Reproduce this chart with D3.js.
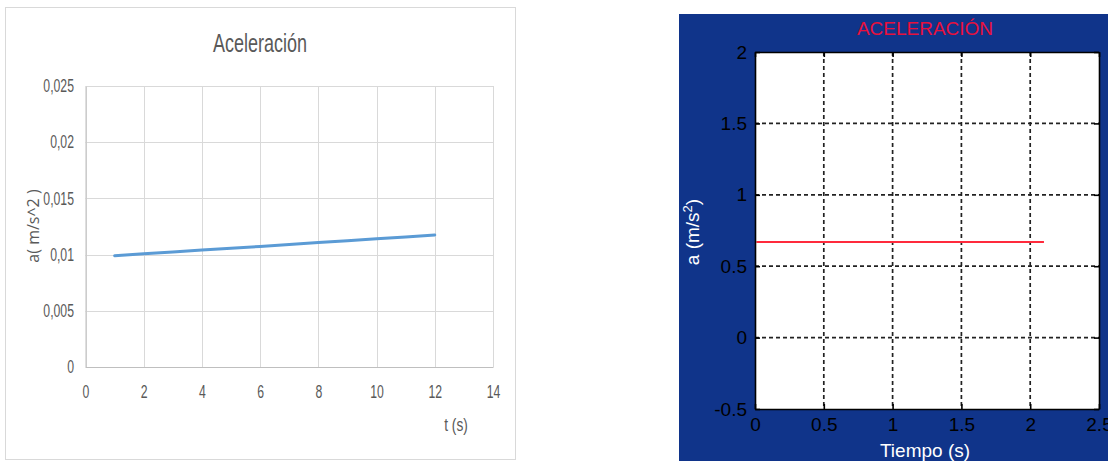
<!DOCTYPE html>
<html>
<head>
<meta charset="utf-8">
<script src="https://cdn.jsdelivr.net/npm/d3@7"></script>
<style>
  html, body { margin: 0; padding: 0; background: #ffffff; }
  svg { display: block; }
</style>
</head>
<body>
<svg id="chart" width="1108" height="461"></svg>
<script>
// ---- Spreadsheet chart: acceleration vs time ----
const sheetTime = [1, 2, 3, 4, 5, 6, 7, 8, 9, 10, 11, 12];
const sheetAccel = [0.00990, 0.01007, 0.01023, 0.01040, 0.01057, 0.01073, 0.01090, 0.01107, 0.01123, 0.01140, 0.01157, 0.01174];
const sheetXTicks = [0, 2, 4, 6, 8, 10, 12, 14];
const sheetYTicks = [0, 0.005, 0.01, 0.015, 0.02, 0.025];

// ---- Simulation plot: constant acceleration ----
const simTime = [0.01, 2.1];
const simAccel = [0.67, 0.67];
const simXTicks = [0, 0.5, 1, 1.5, 2, 2.5];
const simYTicks = [-0.5, 0, 0.5, 1, 1.5, 2];

const svg = d3.select("#chart");

// ================= Left panel =================
const L = svg.append("g");
const sans = "'Liberation Sans', Arial, sans-serif";
const grey = "#595959";
const squeeze = 0.68;   // condensed look for the spreadsheet text

L.append("rect")
  .attr("x", 5.5).attr("y", 7.5).attr("width", 510).attr("height", 452)
  .attr("fill", "#fff").attr("stroke", "#d9d9d9").attr("stroke-width", 1);

const lx = d3.scaleLinear().domain([0, 14]).range([85.5, 493]);
const ly = d3.scaleLinear().domain([0, 0.025]).range([367, 86]);
const commaFmt = v => String(+v.toFixed(3)).replace(".", ",");

// gridlines
L.append("g").selectAll("line").data(sheetYTicks).join("line")
  .attr("x1", lx(0)).attr("x2", lx(14))
  .attr("y1", d => Math.round(ly(d)) + 0.5).attr("y2", d => Math.round(ly(d)) + 0.5)
  .attr("stroke", "#d9d9d9").attr("stroke-width", 1);
L.append("g").selectAll("line").data(sheetXTicks).join("line")
  .attr("x1", d => Math.round(lx(d)) + 0.5).attr("x2", d => Math.round(lx(d)) + 0.5)
  .attr("y1", ly(0.025)).attr("y2", ly(0))
  .attr("stroke", "#d9d9d9").attr("stroke-width", 1);

// axes (labels only, lines provided by the grid)
const lxAxis = L.append("g").attr("transform", `translate(0,${ly(0)})`)
  .call(d3.axisBottom(lx).tickValues(sheetXTicks).tickSize(0).tickPadding(18));
lxAxis.select(".domain").attr("stroke", "#bfbfbf");
lxAxis.selectAll("text").attr("fill", grey).attr("font-family", sans).attr("font-size", 18)
  .attr("transform", `scale(${squeeze},1)`);

const lyAxis = L.append("g").attr("transform", `translate(${lx(0)},0)`)
  .call(d3.axisLeft(ly).tickValues(sheetYTicks).tickSize(0).tickPadding(17).tickFormat(commaFmt));
lyAxis.select(".domain").attr("stroke", "#bfbfbf");
lyAxis.selectAll("text").attr("fill", grey).attr("font-family", sans).attr("font-size", 18)
  .attr("transform", `scale(${squeeze},1)`);

// series line
L.append("path")
  .datum(sheetTime.map((t, i) => [t, sheetAccel[i]]))
  .attr("fill", "none").attr("stroke", "#5b9bd5").attr("stroke-width", 3)
  .attr("stroke-linecap", "round")
  .attr("d", d3.line().x(d => lx(d[0])).y(d => ly(d[1])));

// titles
L.append("text").attr("transform", `translate(260,52) scale(0.72,1)`).attr("text-anchor", "middle")
  .attr("font-family", sans).attr("font-size", 25).attr("fill", grey)
  .text("Aceleración");
L.append("text").attr("transform", "translate(39,226) rotate(-90)").attr("text-anchor", "middle")
  .attr("font-family", "'Open Sans', sans-serif").attr("font-size", 16).attr("fill", grey)
  .text("a( m/s^2 )");
L.append("text").attr("transform", `translate(456,431) scale(0.72,1)`).attr("text-anchor", "middle")
  .attr("font-family", sans).attr("font-size", 19).attr("fill", grey)
  .text("t (s)");

// ================= Right panel =================
const R = svg.append("g");

R.append("rect").attr("x", 679).attr("y", 14).attr("width", 429).attr("height", 447)
  .attr("fill", "#10348a");

const rx = d3.scaleLinear().domain([0, 2.5]).range([755, 1099]);
const ry = d3.scaleLinear().domain([-0.5, 2]).range([409, 52]);
const plainFmt = d => String(d);

R.append("rect").attr("x", rx(0)).attr("y", ry(2))
  .attr("width", rx(2.5) - rx(0)).attr("height", ry(-0.5) - ry(2))
  .attr("fill", "#ffffff");

// dashed grid
R.append("g").selectAll("line").data(simXTicks.slice(1, -1)).join("line")
  .attr("x1", d => rx(d)).attr("x2", d => rx(d))
  .attr("y1", ry(2)).attr("y2", ry(-0.5))
  .attr("stroke", "#222").attr("stroke-width", 1.7).attr("stroke-dasharray", "4,3");
R.append("g").selectAll("line").data(simYTicks.slice(1, -1)).join("line")
  .attr("x1", rx(0)).attr("x2", rx(2.5))
  .attr("y1", d => ry(d)).attr("y2", d => ry(d))
  .attr("stroke", "#222").attr("stroke-width", 1.7).attr("stroke-dasharray", "4,3");

// series
R.append("path")
  .datum(simTime.map((t, i) => [t, simAccel[i]]))
  .attr("fill", "none").attr("stroke", "#ff2a3c").attr("stroke-width", 2)
  .attr("d", d3.line().x(d => rx(d[0])).y(d => ry(d[1])));

// axes with inward ticks on all four sides
const styleAxis = g => {
  g.select(".domain").attr("stroke", "#000").attr("stroke-width", 1.6);
  g.selectAll(".tick line").attr("stroke", "#000").attr("stroke-width", 1.6);
};
const rxAxis = R.append("g").attr("transform", `translate(0,${ry(-0.5)})`)
  .call(d3.axisBottom(rx).tickValues(simXTicks).tickSizeInner(-5).tickSizeOuter(0).tickPadding(9).tickFormat(plainFmt))
  .call(styleAxis);
rxAxis.selectAll("text").attr("fill", "#000").attr("font-family", sans).attr("font-size", 19);
R.append("g").attr("transform", `translate(0,${ry(2)})`)
  .call(d3.axisTop(rx).tickValues(simXTicks).tickSizeInner(-5).tickSizeOuter(0).tickFormat(""))
  .call(styleAxis);
const ryAxis = R.append("g").attr("transform", `translate(${rx(0)},0)`)
  .call(d3.axisLeft(ry).tickValues(simYTicks).tickSizeInner(-5).tickSizeOuter(0).tickPadding(8).tickFormat(plainFmt))
  .call(styleAxis);
ryAxis.selectAll("text").attr("fill", "#000").attr("font-family", sans).attr("font-size", 19);
R.append("g").attr("transform", `translate(${rx(2.5)},0)`)
  .call(d3.axisRight(ry).tickValues(simYTicks).tickSizeInner(-5).tickSizeOuter(0).tickFormat(""))
  .call(styleAxis);

// labels
R.append("text").attr("x", 925).attr("y", 35).attr("text-anchor", "middle")
  .attr("font-family", sans).attr("font-size", 19).attr("fill", "#e8103c")
  .text("ACELERACIÓN");
R.append("text").attr("x", 925).attr("y", 457).attr("text-anchor", "middle")
  .attr("font-family", sans).attr("font-size", 19).attr("fill", "#ffffff")
  .text("Tiempo (s)");
const yl = R.append("text").attr("transform", "translate(699,232) rotate(-90)").attr("text-anchor", "middle")
  .attr("font-family", sans).attr("font-size", 19).attr("fill", "#ffffff");
yl.append("tspan").text("a (m/s");
yl.append("tspan").attr("dy", -7).attr("font-size", 13).text("2");
yl.append("tspan").attr("dy", 7).text(")");
</script>
</body>
</html>
